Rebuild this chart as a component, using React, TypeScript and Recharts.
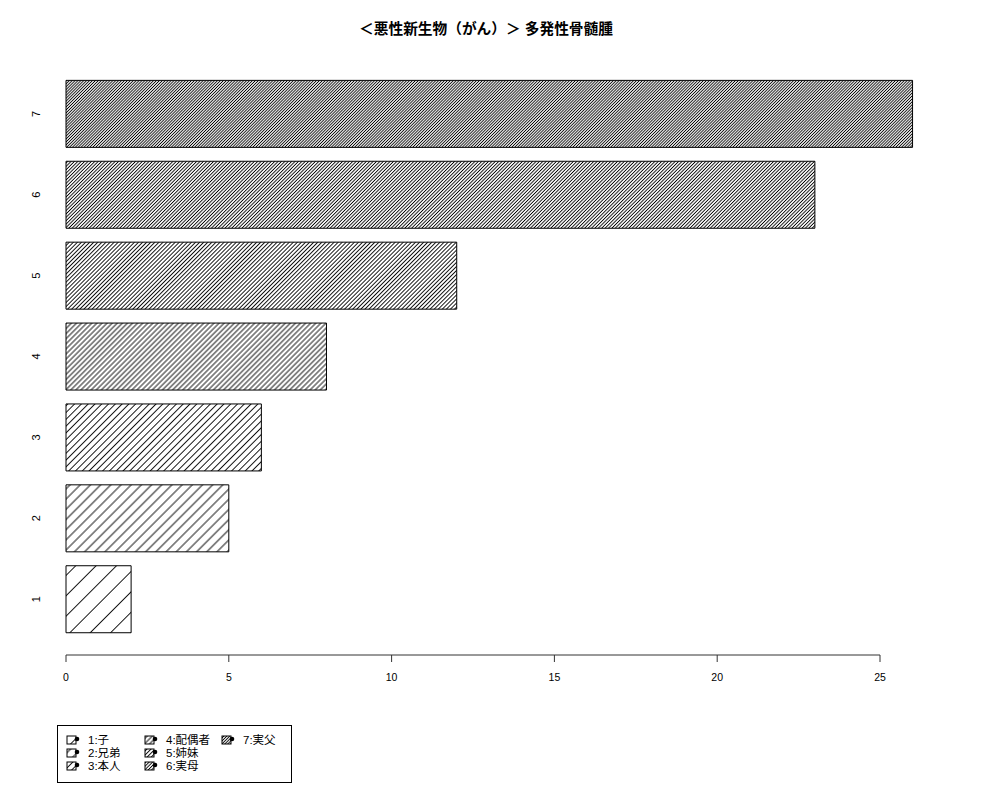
import React from 'react'
import { BarChart, Bar, XAxis, YAxis, Cell, ReferenceLine } from 'recharts'

// 多発性骨髄腫 counts by relation (bar 1 at the bottom)
const categories = ['1', '2', '3', '4', '5', '6', '7']
const values = [2, 5, 6, 8, 12, 23, 26]
const legendLabels = ['1:子', '2:兄弟', '3:本人', '4:配偶者', '5:姉妹', '6:実母', '7:実父']
const xTicks = [0, 5, 10, 15, 20, 25]
// hatch density (lines per inch), as in R barplot(density = ...)
const densities = [5, 10, 15, 20, 25, 30, 35]

const TITLE = '＜悪性新生物（がん）＞ 多発性骨髄腫'
const FONT = '"Liberation Sans", "Noto Sans CJK JP", sans-serif'

// R barplot layout: width 1, space 0.2
const barPos = categories.map((_, i) => 0.7 + 1.2 * i)
const chartData = categories.map((c, i) => ({ name: c, pos: barPos[i], value: values[i] }))
const yDomain: [number, number] = [0.2 - 0.328, 8.4 + 0.328]

function HatchDefs({ prefix }: { prefix: string }) {
  return (
    <defs>
      {densities.map((d, i) => {
        const s = 72 / d
        return (
          <pattern
            key={i}
            id={`${prefix}${i}`}
            patternUnits="userSpaceOnUse"
            width={s}
            height={s}
            patternTransform="rotate(45)"
          >
            <line x1={s / 2} y1={0} x2={s / 2} y2={s} stroke="#000" strokeWidth={0.9} />
          </pattern>
        )
      })}
    </defs>
  )
}

const YTick = (props: any) => {
  const { x, y, payload } = props
  const idx = barPos.findIndex((p) => Math.abs(p - payload.value) < 1e-6)
  return (
    <text
      x={x}
      y={y}
      transform={`rotate(-90, ${x}, ${y})`}
      textAnchor="middle"
      dominantBaseline="central"
      fontSize={11}
      fill="#000"
      fontFamily={FONT}
    >
      {idx >= 0 ? categories[idx] : ''}
    </text>
  )
}

function LegendBox() {
  const cols = [0, 0, 0, 1, 1, 1, 2]
  const rows = [0, 1, 2, 0, 1, 2, 0]
  const colX = [67, 145, 222]
  return (
    <div
      style={{
        position: 'absolute',
        left: 57,
        top: 725,
        width: 233,
        height: 56,
        border: '1px solid #000',
        background: '#fff',
      }}
    >
      <svg width={233} height={56} style={{ position: 'absolute', left: 0, top: 0 }}>
        <HatchDefs prefix="lg" />
        {legendLabels.map((lab, i) => {
          const kx = colX[cols[i]] - 58
          const ky = 10 + rows[i] * 13
          return (
            <g key={lab}>
              <rect x={kx} y={ky} width={9} height={8} fill={`url(#lg${i})`} stroke="#000" strokeWidth={1} />
              <circle cx={kx + 10} cy={ky + 3} r={2.3} fill="#000" />
              <text
                x={kx + 21}
                y={ky + 4}
                dominantBaseline="central"
                fontSize={11.5}
                fontFamily={FONT}
                fill="#000"
              >
                {lab}
              </text>
            </g>
          )
        })}
      </svg>
    </div>
  )
}

export default function App() {
  return (
    <div
      style={{
        position: 'absolute',
        left: 0,
        top: 0,
        width: 1000,
        height: 800,
        background: '#fff',
        fontFamily: FONT,
      }}
    >
      <div
        style={{
          position: 'absolute',
          left: 0,
          top: 20,
          width: 972,
          textAlign: 'center',
          fontSize: 14.7,
          fontWeight: 'bold',
          lineHeight: '18px',
        }}
      >
        {TITLE}
      </div>
      <BarChart
        width={1000}
        height={800}
        data={chartData}
        layout="vertical"
        margin={{ top: 58, right: 54, left: 10, bottom: 115 }}
      >
        <HatchDefs prefix="hb" />
        <XAxis
          type="number"
          domain={[-0.4914, 27.027]}
          allowDataOverflow
          ticks={xTicks}
          axisLine={false}
          tickLine={{ stroke: '#333' }}
          tickSize={7}
          tickMargin={12}
          height={30}
          tick={{ fontSize: 10.5, fill: '#000', fontFamily: FONT }}
        />
        <YAxis
          type="number"
          dataKey="pos"
          domain={yDomain}
          allowDataOverflow
          reversed
          ticks={barPos}
          width={40}
          axisLine={false}
          tickLine={false}
          tickSize={0}
          tickMargin={14}
          tick={<YTick />}
        />
        <ReferenceLine
          segment={[
            { x: xTicks[0], y: yDomain[0] },
            { x: xTicks[xTicks.length - 1], y: yDomain[0] },
          ]}
          stroke="#333"
          strokeWidth={1}
          ifOverflow="visible"
        />
        <Bar dataKey="value" barSize={67} stroke="#000" strokeWidth={1} isAnimationActive={false}>
          {chartData.map((d, i) => (
            <Cell key={d.name} fill={`url(#hb${i})`} />
          ))}
        </Bar>
      </BarChart>
      <LegendBox />
    </div>
  )
}
